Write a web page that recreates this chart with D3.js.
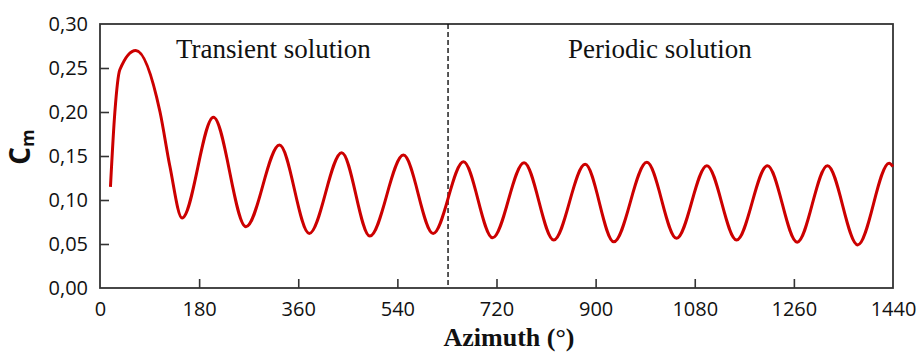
<!DOCTYPE html>
<html>
<head>
<meta charset="utf-8">
<script src="https://cdn.jsdelivr.net/npm/d3@7"></script>
<style>
  body { margin: 0; background: #fff; }
  .tick text { font-family: "Open Sans", sans-serif; font-size: 20px; fill: #111; }
  .note { font-family: "Liberation Serif", serif; font-size: 27px; fill: #111; }
  .unit { font-family: "Liberation Serif", serif; font-size: 26px; font-weight: bold; fill: #111; }
</style>
</head>
<body>
<div id="svg-container"></div>
<script>
// data: azimuth in degrees, Cm value
const azimuth = [19, 27, 36, 65, 109, 127, 149, 206, 265, 326, 380, 439, 490, 551, 605, 660, 713,
  770, 824, 881, 933, 993, 1047, 1102, 1156, 1212, 1266, 1321, 1376, 1433, 1440];
const cm = [0.115, 0.2, 0.248, 0.27, 0.2, 0.138, 0.0795, 0.194, 0.0697, 0.1625, 0.062, 0.1538, 0.059,
  0.151, 0.062, 0.1435, 0.057, 0.1424, 0.0545, 0.1405, 0.0525, 0.1428, 0.0565, 0.139, 0.0545,
  0.139, 0.052, 0.139, 0.049, 0.1417, 0.138];
const xTicks = [0, 180, 360, 540, 720, 900, 1080, 1260, 1440];
const yTicks = [0, 0.05, 0.1, 0.15, 0.2, 0.25, 0.3];
const splitAt = 632;

const width = 918, height = 354;
const margin = { top: 24, right: 25, bottom: 66, left: 100 };

const svg = d3.select("#svg-container").append("svg")
  .attr("width", width).attr("height", height);

const xScale = d3.scaleLinear().domain([0, 1440]).range([margin.left, width - margin.right]);
const yScale = d3.scaleLinear().domain([0, 0.3]).range([height - margin.bottom, margin.top]);

const fmt = d3.format(".2f");

// x axis, ticks pointing inward
const xAxis = d3.axisBottom(xScale).tickValues(xTicks).tickSize(-9).tickPadding(14)
  .tickFormat(d3.format("d"));
const gx = svg.append("g")
  .attr("transform", `translate(0, ${height - margin.bottom})`)
  .call(xAxis);

const yAxis = d3.axisLeft(yScale).tickValues(yTicks).tickSize(-9).tickPadding(12)
  .tickFormat((d) => fmt(d).replace(".", ","));
const gy = svg.append("g")
  .attr("transform", `translate(${margin.left}, 0)`)
  .call(yAxis);

[gx, gy].forEach((g) => {
  g.select(".domain").remove();
  g.selectAll(".tick line").attr("stroke", "#333").attr("stroke-width", 1.6);
});
gx.selectAll(".tick").filter((d) => d === 0 || d === 1440).select("line").remove();
gy.selectAll(".tick").filter((d) => d === 0 || d === 0.3).select("line").remove();

// frame
svg.append("rect")
  .attr("x", xScale(0)).attr("y", yScale(0.3))
  .attr("width", xScale(1440) - xScale(0))
  .attr("height", yScale(0) - yScale(0.3))
  .attr("fill", "none").attr("stroke", "#333").attr("stroke-width", 1.8);

// split line
svg.append("line")
  .attr("x1", xScale(splitAt)).attr("x2", xScale(splitAt))
  .attr("y1", yScale(0.3)).attr("y2", yScale(0))
  .attr("stroke", "#111").attr("stroke-width", 1.4).attr("stroke-dasharray", "5,3");

// curve
const line = d3.line()
  .x((d, i) => xScale(azimuth[i]))
  .y((d) => yScale(d))
  .curve(d3.curveMonotoneX);

svg.append("path")
  .datum(cm)
  .attr("d", line)
  .attr("fill", "none")
  .attr("stroke", "#cc0000")
  .attr("stroke-width", 3);

// labels
svg.append("text").attr("class", "note").attr("x", 176).attr("y", 58).text("Transient solution");
svg.append("text").attr("class", "note").attr("x", 568).attr("y", 58).text("Periodic solution");

svg.append("text").attr("class", "unit")
  .attr("x", 509).attr("y", 346)
  .attr("text-anchor", "middle").text("Azimuth (°)");

const yUnit = svg.append("text")
  .attr("transform", "translate(30, 147) rotate(-90)")
  .attr("text-anchor", "middle")
  .style("font-family", "'Open Sans', sans-serif").style("font-weight", "bold")
  .style("font-size", "28px").attr("fill", "#111");
yUnit.append("tspan").text("C");
yUnit.append("tspan").attr("dy", 4).style("font-size", "18px").text("m");
</script>
</body>
</html>
